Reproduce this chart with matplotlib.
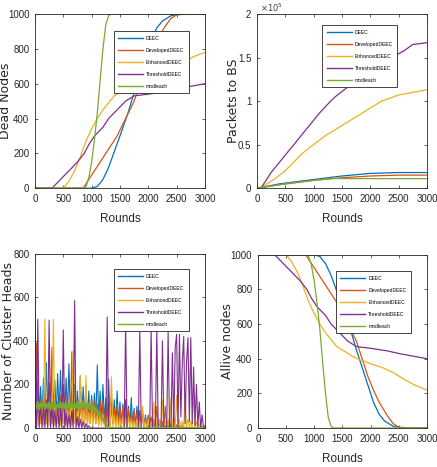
import numpy as np
import matplotlib
matplotlib.use("Agg")
import matplotlib.pyplot as plt
from matplotlib.ticker import FuncFormatter

plt.rcParams['font.family'] = ['Liberation Sans Narrow', 'Liberation Sans', 'DejaVu Sans']

# === data ===
names = ["DEEC", "DevelopedDEEC", "EnhancedDEEC", "ThresholdDEEC", "modleach"]
colors = ["#0072BD", "#D95319", "#EDB120", "#7E2F8E", "#77AC30"]

# dead nodes vs rounds
dead_r = {
    "DEEC": [0, 1000, 1100, 1200, 1300, 1400, 1500, 1650, 1750, 1850, 1950, 2050, 2150, 2250, 2400, 2550, 3000],
    "DevelopedDEEC": [0, 850, 950, 1050, 1150, 1250, 1350, 1450, 1600, 1750, 1850, 1950, 2050, 2150, 2300, 2400, 2500, 2700, 3000],
    "EnhancedDEEC": [0, 500, 600, 700, 800, 900, 1000, 1100, 1200, 1300, 1400, 1500, 1600, 1700, 1800, 1900, 2000, 2200, 2400, 2600, 2800, 3000],
    "ThresholdDEEC": [0, 300, 450, 600, 750, 870, 950, 1050, 1200, 1300, 1450, 1600, 1750, 2000, 2300, 2500, 2750, 3000],
    "modleach": [0, 850, 900, 950, 1000, 1050, 1100, 1150, 1200, 1250, 1300, 1340, 3000],
}
dead_v = {
    "DEEC": [0, 0, 10, 50, 120, 210, 300, 440, 550, 650, 750, 850, 920, 960, 990, 1000, 1000],
    "DevelopedDEEC": [0, 0, 50, 100, 150, 200, 250, 300, 400, 500, 600, 700, 780, 850, 930, 975, 995, 1000, 1000],
    "EnhancedDEEC": [0, 0, 40, 100, 180, 270, 340, 400, 450, 490, 530, 550, 570, 590, 605, 615, 630, 650, 680, 720, 755, 780],
    "ThresholdDEEC": [0, 0, 50, 100, 150, 200, 250, 300, 350, 400, 450, 500, 530, 540, 555, 570, 585, 600],
    "modleach": [0, 0, 10, 60, 150, 280, 430, 620, 800, 940, 990, 1000, 1000],
}

# packets to BS vs rounds
pk_r = {
    "DEEC": [0, 400, 1000, 1500, 2000, 2500, 3000],
    "DevelopedDEEC": [0, 400, 1000, 1500, 2000, 2500, 3000],
    "EnhancedDEEC": [0, 50, 300, 500, 650, 800, 1000, 1200, 1450, 1700, 1950, 2200, 2500, 2750, 3000],
    "ThresholdDEEC": [0, 70, 150, 250, 400, 500, 600, 700, 800, 900, 1000, 1100, 1200, 1300, 1400, 1500,
                      1600, 1700, 1800, 2000, 2200, 2400, 2600, 2750, 3000],
    "modleach": [0, 500, 1000, 1300, 3000],
}
pk_v = {
    "DEEC": [0, 5000, 10000, 14000, 17000, 18000, 18000],
    "DevelopedDEEC": [0, 4000, 9000, 12000, 14000, 15000, 15000],
    "EnhancedDEEC": [0, 0, 10000, 20000, 30000, 40000, 50000, 60000, 70000, 80000, 90000, 100000, 107000, 110000, 113000],
    "ThresholdDEEC": [0, 0, 8000, 18000, 30000, 38000, 46000, 54000, 62000, 70000, 78000, 86000, 93000, 100000,
                      106000, 111000, 116000, 121000, 126000, 135000, 143000, 151000, 158000, 165000, 167000],
    "modleach": [0, 5000, 9000, 11000, 11000],
}

# cluster heads, one value every 25 rounds (0..3000)
ch_step = 25
ch = {
    "DEEC": [120, 30, 210, 60, 190, 40, 230, 50, 300, 70, 210, 40, 290, 80, 220, 50, 250, 60, 265, 70,
             200, 40, 230, 60, 295, 50, 180, 40, 200, 60, 170, 50, 240, 40, 190, 50, 195, 40, 170, 30,
             150, 40, 160, 30, 290, 40, 170, 30, 200, 30, 140, 20, 225, 30, 150, 20, 130, 20, 170, 20,
             120, 10, 110, 20, 130, 10, 100, 10, 140, 10, 90, 5, 100, 5, 80, 5, 70, 5, 60, 0,
             55, 0, 45, 0, 40, 0, 30, 0, 25, 0, 15, 0, 10, 0, 8, 0, 5] + [0] * 24,
    "DevelopedDEEC": [100, 390, 30, 140, 20, 130, 30, 150, 20, 120, 30, 160, 370, 20, 140, 30, 120, 20, 150, 30,
                      130, 20, 140, 30, 110, 20, 350, 20, 130, 30, 120, 20, 110, 30, 130, 20, 120, 30, 110, 20,
                      140, 30, 120, 20, 110, 20, 130, 20, 120, 20, 100, 20, 110, 10, 100, 20, 90, 10, 110, 10,
                      90, 10, 100, 10, 80, 10, 90, 10, 70, 5, 80, 5, 70, 5, 60, 5, 70, 5, 50, 5,
                      60, 0, 50, 0, 40, 0, 100, 0, 40, 0, 30, 0, 100, 0, 30, 0, 20, 0, 60, 0,
                      15, 0, 10, 0, 10, 0, 5] + [0] * 14,
    "EnhancedDEEC": [20, 80, 10, 90, 20, 100, 10, 500, 20, 90, 10, 100, 20, 500, 10, 90, 20, 80, 10, 100,
                     20, 90, 10, 80, 20, 90, 10, 355, 20, 80, 10, 90, 240, 10, 80, 20, 240, 10, 70, 20,
                     80, 10, 70, 20, 60, 10, 70, 10, 60, 10, 50, 10, 60, 5, 235, 5, 60, 5, 50, 5,
                     40, 5, 50, 5, 40, 5, 50, 5, 40, 5, 30, 5, 40, 0, 30, 0, 100, 0, 30, 0,
                     40, 0, 30, 0, 120, 0, 30, 0, 40, 0, 130, 0, 30, 0, 40, 0, 140, 0, 30, 0,
                     150, 0, 40, 0, 30, 0, 160, 0, 40, 0, 30, 0, 180, 0, 30, 0, 20, 0, 10, 0, 0],
    "ThresholdDEEC": [600, 0, 500, 0, 120, 0, 100, 0, 130, 0, 495, 0, 100, 0, 80, 0, 110, 0, 90, 0,
                      450, 0, 70, 0, 60, 0, 80, 0, 585, 0, 50, 0, 40, 0, 30, 0, 20, 0, 10]
                     + [0] * 12 + [510] + [0] * 12 + [480] + [0] * 9 + [460] + [0] * 7 + [455] + [0] * 3
                     + [455, 0, 0, 0, 400, 0, 0, 0, 440, 0, 0, 345, 0, 370, 430, 0, 430, 50, 300, 420,
                        20, 300, 415, 30, 415, 20, 280, 10, 200, 5, 120, 0, 60, 0, 10],
    "modleach": [110, 90, 120, 85, 115, 95, 120, 88, 112, 92, 118, 86, 115, 90, 120, 85, 110, 95, 118, 88,
                 115, 90, 120, 86, 112, 92, 118, 88, 115, 90, 120, 85, 112, 92, 118, 88, 110, 90, 115, 85,
                 110, 80, 100, 70, 85, 55, 65, 40, 45, 25, 20, 8, 3] + [0] * 68,
}

xticks = [0, 500, 1000, 1500, 2000, 2500, 3000]

fig = plt.figure(figsize=(4.37, 4.67), dpi=100)
ax1 = fig.add_axes([0.080, 0.597, 0.389, 0.373])
ax2 = fig.add_axes([0.588, 0.597, 0.389, 0.373])
ax3 = fig.add_axes([0.080, 0.0835, 0.389, 0.373])
ax4 = fig.add_axes([0.590, 0.0835, 0.387, 0.371])

for n, c in zip(names, colors):
    ax1.plot(dead_r[n], dead_v[n], color=c, lw=0.9, label=n)
    ax2.plot(pk_r[n], pk_v[n], color=c, lw=0.9, label=n)
    ax4.plot(dead_r[n], 1000 - np.array(dead_v[n]), color=c, lw=0.9, label=n)
for n, c in zip(names, colors):
    v = ch[n]
    lw = 1.4 if n == "modleach" else 0.8
    ax3.plot(np.arange(len(v)) * ch_step, v, color=c, lw=lw, label=n)

lab_font = dict(fontsize=9, family=['DejaVu Sans'], color="#262626")
ax1.set_ylim(0, 1000)
ax1.set_ylabel("Dead Nodes", **lab_font)
ax1.yaxis.set_label_coords(-0.135, 0.5)
ax2.set_ylim(0, 200000)
ax2.set_yticks([0, 50000, 100000, 150000, 200000])
ax2.yaxis.set_major_formatter(FuncFormatter(lambda v, p: "%g" % (v / 1e5)))
ax2.text(0.02, 1.01, r"$\times10^5$", transform=ax2.transAxes, fontsize=6, color="#404040")
ax2.set_ylabel("Packets to BS", **lab_font)
ax2.yaxis.set_label_coords(-0.1, 0.5)
ax3.set_ylim(0, 800)
ax3.set_yticks([0, 200, 400, 600, 800])
ax3.set_ylabel("Number of Cluster Heads", **lab_font)
ax3.yaxis.set_label_coords(-0.12, 0.5)
ax4.set_ylim(0, 1000)
ax4.set_ylabel("Allive nodes", **lab_font)
ax4.yaxis.set_label_coords(-0.14, 0.5)

legend_pos = {ax1: (0.92, 0.915), ax2: (0.84, 0.95), ax3: (0.92, 0.925), ax4: (0.92, 0.92)}
for ax in (ax1, ax2, ax3, ax4):
    ax.set_xlim(0, 3000)
    ax.set_xticks(xticks)
    ax.set_xlabel("Rounds", fontsize=8.5, labelpad=7, color="#262626")
    ax.tick_params(direction="in", top=True, right=True, labelsize=7, length=2.5,
                   width=0.5, colors="#262626", pad=4)
    for s in ax.spines.values():
        s.set_linewidth(0.6)
        s.set_color("#262626")
    leg = ax.legend(loc="upper right", bbox_to_anchor=legend_pos[ax], fontsize=3.6,
                    fancybox=False, framealpha=1, edgecolor="#262626", handlelength=5,
                    borderpad=0.9, labelspacing=1.4, handletextpad=0.6)
    leg.get_frame().set_linewidth(0.6)
    for h in leg.get_lines():
        h.set_linewidth(1.0)

fig.savefig("out.png", dpi=100)
